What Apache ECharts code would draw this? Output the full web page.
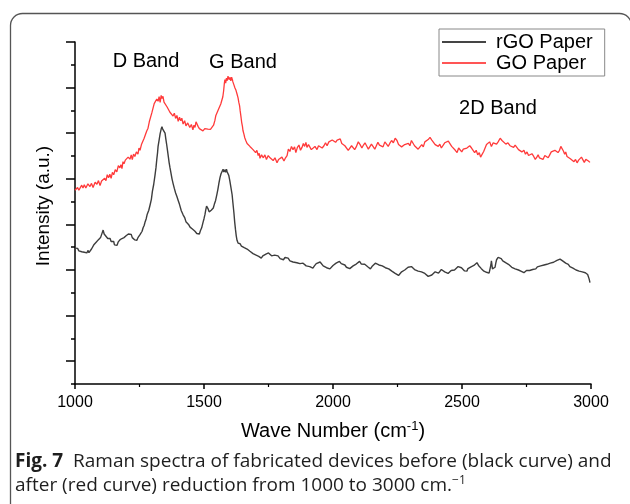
<!DOCTYPE html>
<html>
<head>
<meta charset="utf-8">
<script src="https://cdn.jsdelivr.net/npm/echarts@6/dist/echarts.min.js"></script>
<style>
html,body{margin:0;padding:0;background:#fff;}
#chart{width:630px;height:504px;}
</style>
</head>
<body>
<div id="chart"></div>
<script>
// ---- data (wavenumber cm^-1, intensity a.u.) ----
const seriesNames = ['rGO Paper', 'GO Paper'];
const xTicks = [1000, 1500, 2000, 2500, 3000];
const rgoSpectrum = [
[1000,5.96],[1005,5.88],[1010,5.95],[1015,5.84],[1020,5.92],[1026,5.80],[1031,5.88],[1036,5.78],[1042,5.82],[1046,5.75],
[1050,5.86],[1054,5.76],[1058,5.80],[1064,5.92],[1070,5.98],[1074,6.12],[1078,6.05],[1082,6.22],[1085,6.18],[1090,6.32],
[1095,6.25],[1099,6.42],[1102,6.40],[1106,6.65],[1109,6.75],[1113,6.58],[1116,6.62],[1120,6.48],[1124,6.55],[1127,6.38],
[1130,6.42],[1133,6.30],[1136,6.38],[1140,6.25],[1143,6.32],[1147,6.18],[1150,6.25],[1153,6.10],[1156,6.15],[1160,6.02],
[1163,6.08],[1167,6.22],[1170,6.18],[1174,6.32],[1178,6.25],[1182,6.38],[1186,6.30],[1190,6.42],[1194,6.35],[1198,6.50],
[1202,6.45],[1207,6.58],[1213,6.50],[1218,6.56],[1222,6.42],[1227,6.48],[1232,6.32],[1236,6.40],[1240,6.30],[1244,6.42],
[1248,6.48],[1252,6.55],[1256,6.62],[1260,6.70],[1264,6.85],[1268,6.95],[1272,7.12],[1276,7.25],[1280,7.45],[1286,7.62],
[1291,7.85],[1296,8.10],[1300,8.45],[1305,8.75],[1310,9.15],[1314,9.50],[1317,9.85],[1320,10.15],[1322,10.42],[1326,10.70],
[1330,10.98],[1334,11.18],[1337,11.28],[1340,11.18],[1343,11.25],[1346,11.10],[1349,11.00],[1352,10.75],[1356,10.45],[1359,10.20],
[1362,9.95],[1365,9.70],[1368,9.50],[1372,9.25],[1376,9.00],[1380,8.80],[1385,8.58],[1390,8.38],[1395,8.22],[1400,8.05],
[1405,7.88],[1412,7.60],[1419,7.42],[1425,7.30],[1430,7.12],[1435,7.18],[1440,7.00],[1443,7.05],[1446,6.88],[1450,6.92],
[1455,6.80],[1460,6.85],[1465,6.70],[1469,6.75],[1472,6.60],[1477,6.52],[1482,6.58],[1486,6.72],[1491,6.85],[1496,7.08],
[1500,7.25],[1504,7.45],[1507,7.65],[1510,7.80],[1513,7.72],[1516,7.68],[1520,7.55],[1524,7.50],[1528,7.62],[1532,7.58],
[1536,7.72],[1540,7.88],[1545,8.05],[1550,8.32],[1554,8.55],[1558,8.82],[1562,9.05],[1566,9.22],[1570,9.32],[1574,9.42],
[1577,9.30],[1581,9.40],[1584,9.28],[1587,9.42],[1590,9.30],[1593,9.35],[1596,9.15],[1600,8.92],[1604,8.65],[1609,8.30],
[1612,7.95],[1616,7.50],[1619,7.10],[1622,6.78],[1625,6.50],[1628,6.30],[1632,6.18],[1635,6.12],[1640,6.15],[1645,6.05],
[1650,6.08],[1656,5.98],[1662,6.02],[1667,5.92],[1672,5.95],[1678,5.82],[1684,5.85],[1690,5.72],[1695,5.78],[1700,5.66],
[1706,5.72],[1712,5.60],[1717,5.65],[1722,5.52],[1728,5.62],[1734,5.58],[1740,5.70],[1745,5.65],[1750,5.75],[1756,5.68],
[1762,5.62],[1768,5.55],[1774,5.65],[1780,5.58],[1787,5.62],[1795,5.50],[1801,5.55],[1808,5.45],[1814,5.55],[1820,5.48],
[1826,5.52],[1833,5.40],[1839,5.45],[1845,5.35],[1852,5.40],[1860,5.32],[1866,5.38],[1872,5.28],[1878,5.35],[1884,5.30],
[1890,5.26],[1896,5.18],[1903,5.24],[1910,5.15],[1916,5.20],[1922,5.08],[1928,5.18],[1935,5.28],[1942,5.22],[1950,5.35],
[1956,5.28],[1962,5.18],[1968,5.22],[1975,5.10],[1981,5.15],[1988,5.05],[1994,5.12],[2000,5.20],[2006,5.15],[2012,5.30],
[2018,5.25],[2025,5.38],[2032,5.28],[2039,5.34],[2046,5.22],[2052,5.12],[2058,5.18],[2065,5.06],[2071,5.12],[2078,5.18],
[2084,5.10],[2090,5.26],[2097,5.32],[2103,5.38],[2110,5.26],[2116,5.32],[2123,5.25],[2130,5.20],[2137,5.12],[2145,5.05],
[2151,5.15],[2158,5.22],[2164,5.30],[2171,5.36],[2178,5.22],[2185,5.28],[2191,5.18],[2198,5.22],[2203,5.10],[2209,5.14],
[2216,5.05],[2222,5.00],[2228,4.95],[2235,4.90],[2241,4.85],[2248,4.80],[2254,4.76],[2260,4.80],[2266,4.92],[2272,4.86],
[2278,5.00],[2285,5.05],[2291,5.12],[2298,5.08],[2304,5.15],[2310,5.10],[2316,5.02],[2322,5.06],[2330,4.95],[2337,5.00],
[2343,4.92],[2350,4.88],[2356,4.85],[2362,4.80],[2369,4.72],[2376,4.70],[2383,4.78],[2390,4.84],[2396,4.92],[2403,4.96],
[2409,4.86],[2415,4.92],[2420,5.02],[2426,4.98],[2433,4.92],[2440,4.96],[2446,4.85],[2452,4.90],[2458,4.98],[2465,4.90],
[2471,5.00],[2478,5.06],[2485,5.15],[2492,5.22],[2498,5.10],[2505,5.05],[2510,4.96],[2515,5.00],[2519,4.95],[2523,5.06],
[2529,5.10],[2535,5.14],[2540,5.08],[2546,5.20],[2552,5.22],[2558,5.32],[2564,5.20],[2570,5.15],[2575,5.06],[2580,5.00],
[2585,4.95],[2589,4.98],[2595,4.90],[2600,4.92],[2605,4.86],[2609,4.88],[2612,5.22],[2614,5.40],[2616,5.35],[2618,5.05],
[2621,5.02],[2625,5.08],[2628,5.12],[2631,5.30],[2634,5.45],[2637,5.50],[2640,5.55],[2646,5.48],[2652,5.50],[2658,5.40],
[2664,5.42],[2669,5.32],[2674,5.35],[2680,5.25],[2686,5.22],[2693,5.12],[2700,5.15],[2706,5.05],[2713,5.10],[2719,5.00],
[2725,5.02],[2730,4.94],[2735,4.95],[2740,4.88],[2744,4.90],[2750,4.98],[2756,5.02],[2762,4.98],[2768,5.06],[2774,5.02],
[2780,5.10],[2786,5.05],[2792,5.14],[2798,5.10],[2805,5.18],[2811,5.12],[2818,5.22],[2823,5.18],[2829,5.25],[2835,5.20],
[2842,5.30],[2848,5.26],[2855,5.34],[2861,5.30],[2868,5.42],[2874,5.38],[2880,5.48],[2885,5.42],[2890,5.40],[2896,5.32],
[2902,5.30],[2907,5.22],[2912,5.25],[2918,5.15],[2925,5.18],[2930,5.08],[2936,5.10],[2942,5.00],[2948,5.02],[2954,4.95],
[2960,5.00],[2966,4.92],[2972,4.96],[2978,4.88],[2984,4.92],[2987,4.80],[2990,4.72],[2993,4.60],[2996,4.45]
];
const goSpectrum = [
[1000,8.50],[1005,8.42],[1010,8.62],[1015,8.50],[1020,8.55],[1026,8.72],[1031,8.60],[1036,8.74],[1042,8.60],[1050,8.78],
[1058,8.66],[1064,8.80],[1070,8.62],[1078,8.85],[1085,8.76],[1091,8.92],[1097,8.70],[1103,8.90],[1109,8.82],[1115,9.02],
[1120,8.92],[1125,9.18],[1130,9.05],[1135,9.20],[1140,9.02],[1145,9.28],[1150,9.18],[1156,9.40],[1162,9.30],[1168,9.58],
[1174,9.48],[1178,9.62],[1182,9.45],[1186,9.75],[1190,9.66],[1195,9.82],[1200,9.74],[1206,9.95],[1213,9.86],[1218,10.05],
[1222,9.84],[1227,10.08],[1232,9.98],[1238,10.18],[1244,10.08],[1248,10.35],[1252,10.25],[1258,10.52],[1264,10.50],[1268,10.78],
[1273,10.85],[1278,11.10],[1283,11.22],[1288,11.50],[1293,11.45],[1298,11.90],[1302,11.95],[1307,12.30],[1312,12.22],[1317,12.50],
[1322,12.40],[1326,12.60],[1330,12.35],[1334,12.66],[1337,12.52],[1341,12.62],[1345,12.36],[1351,12.42],[1357,12.15],[1362,12.22],
[1368,11.92],[1374,12.00],[1380,11.75],[1385,11.88],[1390,11.65],[1395,11.78],[1400,11.52],[1405,11.70],[1410,11.55],[1414,11.66],
[1419,11.40],[1425,11.55],[1430,11.32],[1437,11.45],[1445,11.25],[1451,11.38],[1457,11.15],[1461,11.35],[1465,11.25],[1469,11.50],
[1473,11.42],[1477,11.30],[1482,11.20],[1489,11.25],[1496,11.10],[1503,11.20],[1510,11.12],[1515,11.18],[1520,11.10],[1525,11.17],
[1531,11.14],[1537,11.35],[1542,11.55],[1546,11.78],[1550,11.85],[1555,12.02],[1560,12.05],[1565,12.28],[1570,12.35],[1573,12.60],
[1576,12.85],[1579,13.20],[1581,13.35],[1584,13.20],[1587,13.42],[1590,13.30],[1593,13.50],[1597,13.35],[1601,13.45],[1604,13.30],
[1607,13.46],[1610,13.35],[1612,13.25],[1616,13.12],[1620,12.98],[1624,12.88],[1628,12.72],[1632,12.55],[1635,12.35],[1638,12.20],
[1640,12.00],[1643,11.75],[1646,11.48],[1649,11.30],[1651,11.12],[1655,10.95],[1658,10.80],[1662,10.68],[1667,10.55],[1672,10.60],
[1678,10.42],[1684,10.48],[1690,10.28],[1695,10.35],[1700,10.15],[1705,10.25],[1710,10.02],[1714,10.12],[1717,9.90],[1723,10.05],
[1730,9.92],[1736,10.05],[1742,9.85],[1749,10.02],[1756,9.92],[1762,10.00],[1768,9.80],[1775,9.92],[1783,9.70],[1789,9.85],
[1795,9.82],[1802,9.95],[1810,9.78],[1816,9.92],[1822,10.02],[1827,10.30],[1833,10.20],[1839,10.42],[1845,10.28],[1851,10.40],
[1856,10.15],[1862,10.38],[1868,10.48],[1874,10.25],[1880,10.38],[1885,10.55],[1890,10.42],[1895,10.60],[1899,10.38],[1905,10.50],
[1910,10.58],[1916,10.28],[1922,10.35],[1930,10.42],[1938,10.28],[1944,10.45],[1950,10.52],[1958,10.35],[1965,10.45],[1971,10.58],
[1977,10.45],[1984,10.62],[1990,10.55],[1997,10.70],[2004,10.75],[2010,10.60],[2016,10.70],[2022,10.62],[2028,10.75],[2034,10.55],
[2039,10.62],[2046,10.45],[2052,10.42],[2059,10.25],[2066,10.20],[2072,10.45],[2078,10.38],[2084,10.28],[2090,10.40],[2098,10.62],
[2105,10.50],[2112,10.35],[2118,10.48],[2124,10.58],[2130,10.45],[2137,10.30],[2143,10.25],[2149,10.52],[2155,10.42],[2162,10.30],
[2168,10.45],[2174,10.60],[2180,10.48],[2187,10.55],[2194,10.40],[2201,10.62],[2208,10.55],[2214,10.42],[2220,10.55],[2227,10.68],
[2234,10.58],[2241,10.78],[2248,10.68],[2254,10.50],[2260,10.58],[2266,10.40],[2271,10.32],[2278,10.50],[2285,10.42],[2292,10.55],
[2298,10.45],[2304,10.68],[2310,10.60],[2316,10.45],[2322,10.42],[2330,10.30],[2337,10.25],[2344,10.50],[2350,10.40],[2356,10.62],
[2362,10.58],[2369,10.72],[2376,10.82],[2383,10.70],[2390,10.68],[2396,10.50],[2403,10.58],[2408,10.42],[2414,10.52],[2420,10.35],
[2426,10.42],[2433,10.58],[2440,10.50],[2447,10.65],[2453,10.58],[2460,10.42],[2466,10.45],[2474,10.25],[2481,10.15],[2487,10.35],
[2492,10.28],[2499,10.18],[2505,10.30],[2512,10.22],[2519,10.35],[2525,10.28],[2530,10.45],[2537,10.35],[2543,10.40],[2549,10.15],
[2555,10.25],[2561,10.05],[2567,10.15],[2572,9.95],[2578,10.02],[2584,10.20],[2590,10.28],[2595,10.50],[2601,10.48],[2607,10.62],
[2614,10.42],[2621,10.58],[2628,10.65],[2634,10.52],[2640,10.62],[2648,10.78],[2655,10.68],[2662,10.60],[2670,10.52],[2678,10.58],
[2686,10.45],[2693,10.50],[2700,10.38],[2706,10.48],[2713,10.40],[2719,10.28],[2725,10.35],[2732,10.18],[2740,10.25],[2746,10.08],
[2752,10.18],[2758,10.02],[2764,9.95],[2771,10.10],[2778,9.98],[2784,9.85],[2790,9.95],[2795,10.05],[2800,9.92],[2807,10.00],
[2814,9.85],[2821,10.02],[2828,10.08],[2834,9.92],[2840,10.05],[2846,10.18],[2853,10.10],[2860,10.25],[2866,10.32],[2872,10.15],
[2878,10.25],[2883,10.42],[2888,10.35],[2893,10.22],[2898,10.08],[2902,10.18],[2907,9.98],[2913,10.05],[2920,9.88],[2927,9.95],
[2934,9.75],[2940,9.85],[2946,9.70],[2952,9.82],[2958,9.76],[2963,9.95],[2969,9.88],[2974,9.72],[2980,9.85],[2985,9.92],
[2990,9.78],[2996,9.72]
];
const yMajorTicks = [1, 3, 5, 7, 9, 11, 13, 15];
const yMinorTicks = [0, 2, 4, 6, 8, 10, 12, 14];
const bandLabels = [
  {text: 'D Band', x: 146, y: 61},
  {text: 'G Band', x: 243, y: 62},
  {text: '2D Band', x: 498, y: 108}
];

const FONT = '"Liberation Sans", Arial, sans-serif';
const CAP = '"Open Sans", sans-serif';
const chart = echarts.init(document.getElementById('chart'), null, {renderer: 'canvas'});

const graphics = [
  {type: 'rect', shape: {x: 10.5, y: 13.5, width: 621, height: 510, r: 12},
   style: {fill: 'none', stroke: '#555', lineWidth: 1.3}, silent: true, z: 0},
  {type: 'text', x: 44, y: 206, rotation: Math.PI / 2,
   style: {text: 'Intensity (a.u.)', font: '19px ' + FONT, fill: '#000', textAlign: 'center', textVerticalAlign: 'middle'}},
  {type: 'text', x: 15, y: 462,
   style: {
     text: '{b|Fig. 7}  Raman spectra of fabricated devices before (black curve) and',
     rich: {b: {fontWeight: 'bold', fontFamily: CAP, fontSize: 19, fill: '#1e1e1e'}},
     fontFamily: CAP, fontSize: 19, fill: '#1e1e1e', textVerticalAlign: 'middle'}},
  {type: 'text', x: 15, y: 486,
   style: {
     text: 'after (red curve) reduction from 1000 to 3000 cm.{s|\u22121}',
     rich: {s: {fontFamily: CAP, fontSize: 12, verticalAlign: 'top', padding: [0,0,10,0], fill: '#1e1e1e'}},
     fontFamily: CAP, fontSize: 19, fill: '#1e1e1e', textVerticalAlign: 'middle'}}
];
bandLabels.forEach(b => graphics.push({type: 'text', x: b.x, y: b.y,
  style: {text: b.text, font: '20px ' + FONT, fill: '#000', textAlign: 'center', textVerticalAlign: 'middle'}}));

chart.setOption({
  animation: false,
  backgroundColor: '#fff',
  grid: {left: 75, right: 39, top: 42, bottom: 120, containLabel: false},
  legend: {
    left: 439, top: 29, orient: 'vertical',
    data: seriesNames,
    icon: 'rect', itemWidth: 44, itemHeight: 2, itemGap: 1,
    padding: [3, 12, 3, 3],
    borderColor: '#888', borderWidth: 1,
    textStyle: {fontFamily: FONT, fontSize: 20, color: '#000', lineHeight: 20, padding: [0, 0, 0, 5]}
  },
  xAxis: {
    type: 'value', min: 1000, max: 3000, interval: 500,
    name: 'Wave Number (cm{s|-1})', nameLocation: 'middle', nameGap: 36,
    nameTextStyle: {fontFamily: FONT, fontSize: 20, color: '#000',
      rich: {s: {fontFamily: FONT, fontSize: 13, verticalAlign: 'top', padding: [0, 0, 10, 0], color: '#000'}}},
    axisLine: {show: true, lineStyle: {color: '#000', width: 1.5}},
    axisTick: {show: true, inside: false, length: 5, lineStyle: {color: '#000', width: 1.5}},
    minorTick: {show: true, splitNumber: 2, length: 3, lineStyle: {color: '#000', width: 1.2}},
    axisLabel: {fontFamily: FONT, fontSize: 16, color: '#000', margin: 11,
      formatter: v => String(v)},
    splitLine: {show: false}
  },
  yAxis: [{
    type: 'value', min: 0, max: 15, position: 'left',
    axisLine: {show: true, lineStyle: {color: '#000', width: 1.5}},
    axisTick: {show: true, inside: false, length: 9, customValues: yMajorTicks, lineStyle: {color: '#000', width: 1.5}},
    axisLabel: {show: false},
    splitLine: {show: false}
  }, {
    type: 'value', min: 0, max: 15, position: 'left',
    axisLine: {show: false},
    axisTick: {show: true, inside: false, length: 4, customValues: yMinorTicks, lineStyle: {color: '#000', width: 1.5}},
    axisLabel: {show: false},
    splitLine: {show: false}
  }],
  series: [{
    name: seriesNames[0], type: 'line', data: rgoSpectrum, yAxisIndex: 0,
    showSymbol: false, symbol: 'none', color: '#454545',
    lineStyle: {color: '#3d3d3d', width: 1.4}
  }, {
    name: seriesNames[1], type: 'line', data: goSpectrum, yAxisIndex: 0,
    showSymbol: false, symbol: 'none', color: '#ff5555',
    lineStyle: {color: '#ff3a3a', width: 1.3}
  }],
  graphic: graphics
});
</script>
</body>
</html>
